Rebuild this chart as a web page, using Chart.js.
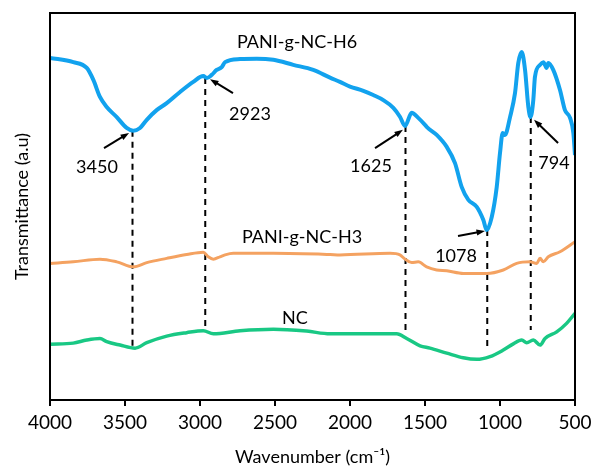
<!DOCTYPE html>
<html>
<head>
<meta charset="utf-8">
<script src="https://cdn.jsdelivr.net/npm/chart.js@4.4.1/dist/chart.umd.min.js"></script>
<style>
  html, body { margin: 0; padding: 0; background: #fff; }
  #wrap { width: 592px; height: 468px; }
</style>
</head>
<body>
<div id="wrap"><canvas id="ftir"></canvas></div>
<script>
// wavenumbers (cm-1) and transmittance (a.u., offset)
const h6Wave = [4000, 3845, 3755, 3711, 3667, 3622, 3555, 3489, 3445, 3400, 3355, 3289, 3222, 3133, 3045, 2978, 2955, 2922, 2889, 2855, 2833, 2733, 2622, 2511, 2378, 2245, 2133, 2067, 2000, 1911, 1845, 1778, 1711, 1667, 1633, 1589, 1545, 1500, 1487, 1422, 1355, 1300, 1255, 1211, 1155, 1111, 1089, 1055, 1022, 1000, 982, 967, 933, 900, 878, 855, 833, 811, 796, 778, 767, 733, 711, 689, 678, 645, 600, 567, 533, 511, 500];
const h6Vals = [88.4, 87.3, 85.8, 82.7, 78.3, 75.7, 73.1, 70.3, 69.6, 70.3, 72.4, 74.9, 76.7, 79.6, 82.2, 83.7, 83.2, 84.0, 85.3, 86.0, 87.3, 88.1, 88.2, 87.9, 86.6, 85.3, 83.3, 82.2, 81.0, 79.9, 78.8, 77.5, 75.5, 73.2, 70.8, 74.2, 72.9, 71.1, 70.5, 68.5, 65.4, 61.2, 55.0, 51.7, 49.9, 46.5, 43.9, 47.3, 55.0, 63.8, 69.0, 68.5, 73.1, 79.3, 87.1, 89.9, 85.3, 75.7, 73.1, 77.5, 83.5, 86.6, 87.3, 85.8, 87.1, 85.3, 80.1, 74.9, 72.9, 69.0, 63.3];

const h3Wave = [4000, 3845, 3667, 3555, 3445, 3355, 3222, 3089, 2978, 2945, 2911, 2867, 2833, 2778, 2511, 2133, 2067, 1733, 1667, 1633, 1589, 1545, 1489, 1422, 1355, 1245, 1089, 978, 889, 800, 755, 733, 711, 678, 600, 500];
const h3Vals = [35.3, 35.7, 36.4, 35.7, 34.4, 35.5, 36.6, 37.6, 38.2, 37.0, 36.4, 37.0, 37.5, 37.9, 37.9, 37.6, 37.5, 37.9, 37.5, 36.4, 35.5, 35.7, 34.4, 33.6, 33.4, 32.7, 32.7, 33.6, 35.3, 35.7, 35.3, 36.6, 35.7, 37.0, 38.3, 40.9];

const ncWave = [4000, 3845, 3755, 3667, 3622, 3533, 3433, 3355, 3222, 3089, 2978, 2911, 2733, 2511, 2289, 2133, 1689, 1622, 1533, 1467, 1355, 1245, 1155, 1067, 978, 911, 855, 822, 778, 733, 700, 622, 556, 500];
const ncVals = [14.4, 14.7, 15.5, 15.9, 15.1, 14.2, 13.4, 14.8, 16.5, 17.4, 17.9, 17.1, 17.9, 18.3, 17.8, 17.1, 17.1, 15.9, 14.0, 13.4, 12.1, 10.9, 10.5, 11.2, 12.9, 14.5, 15.5, 14.8, 15.5, 14.2, 15.9, 17.6, 19.8, 22.4];

// marked peaks: dashed guide from the H6 minimum down towards the NC trace
const peakLabels = ['3450', '2923', '1625', '1078', '794'];
const peakWave = [3450, 2965, 1630, 1085, 795];
const peakTop = [69.6, 83.2, 70.8, 43.9, 73.1];
const peakBottom = [13.8, 18.9, 16.8, 12.9, 18.1];

// label centres and arrows (data units)
const labelWave = [3687, 2667, 1860, 1293, 640];
const labelVals = [60.2, 73.9, 60.5, 37.2, 61.2];
const arrowFrom = [[3640, 65.1], [2780, 79.3], [1833, 65.1], [1280, 42.4], [613, 66.4]];
const arrowTo = [[3473, 69.0], [2933, 82.9], [1647, 69.8], [1100, 43.7], [773, 72.4]];

const seriesNames = ['PANI-g-NC-H6', 'PANI-g-NC-H3', 'NC'];
const seriesColors = ['#12A2EE', '#F4A261', '#19C884'];
const seriesLabelAt = [[2353, 92.5], [2320, 42.1], [2367, 21.2]];

const xTicks = [4000, 3500, 3000, 2500, 2000, 1500, 1000, 500];

const FONT = 'Lato, "Open Sans", sans-serif';

const toPoints = (xs, ys) => xs.map((x, i) => ({ x: x, y: ys[i] }));

const datasets = [
  { data: toPoints(h6Wave, h6Vals), borderColor: seriesColors[0], borderWidth: 4 },
  { data: toPoints(h3Wave, h3Vals), borderColor: seriesColors[1], borderWidth: 3 },
  { data: toPoints(ncWave, ncVals), borderColor: seriesColors[2], borderWidth: 3.5 },
].map(d => Object.assign(d, { pointRadius: 0, tension: 0.4, cubicInterpolationMode: 'monotone', fill: false }));

peakWave.forEach((w, i) => {
  datasets.push({
    data: [{ x: w, y: peakTop[i] }, { x: w, y: peakBottom[i] }],
    borderColor: '#000', borderWidth: 2, borderDash: [6, 5], pointRadius: 0, fill: false
  });
});

const annotations = {
  id: 'annotations',
  afterDatasetsDraw(chart) {
    const { ctx, chartArea: a, scales: { x, y } } = chart;
    ctx.save();
    // frame
    ctx.strokeStyle = '#000';
    ctx.lineWidth = 2;
    ctx.strokeRect(a.left, a.top, a.right - a.left, a.bottom - a.top);

    ctx.fillStyle = '#000';
    ctx.font = '18px ' + FONT;
    ctx.textAlign = 'center';
    ctx.textBaseline = 'middle';
    seriesNames.forEach((n, i) => {
      ctx.fillText(n, x.getPixelForValue(seriesLabelAt[i][0]), y.getPixelForValue(seriesLabelAt[i][1]));
    });
    peakLabels.forEach((t, i) => {
      ctx.fillText(t, x.getPixelForValue(labelWave[i]), y.getPixelForValue(labelVals[i]));
    });

    // arrows
    arrowFrom.forEach((f, i) => {
      const x0 = x.getPixelForValue(f[0]), y0 = y.getPixelForValue(f[1]);
      const x1 = x.getPixelForValue(arrowTo[i][0]), y1 = y.getPixelForValue(arrowTo[i][1]);
      const ang = Math.atan2(y1 - y0, x1 - x0);
      const head = 9;
      ctx.lineWidth = 2;
      ctx.beginPath();
      ctx.moveTo(x0, y0);
      ctx.lineTo(x1 - Math.cos(ang) * head * 0.8, y1 - Math.sin(ang) * head * 0.8);
      ctx.stroke();
      ctx.beginPath();
      ctx.moveTo(x1, y1);
      ctx.lineTo(x1 - head * Math.cos(ang - 0.35), y1 - head * Math.sin(ang - 0.35));
      ctx.lineTo(x1 - head * Math.cos(ang + 0.35), y1 - head * Math.sin(ang + 0.35));
      ctx.closePath();
      ctx.fill();
    });
    ctx.restore();
  }
};

new Chart(document.getElementById('ftir'), {
  type: 'line',
  data: { datasets: datasets },
  options: {
    responsive: true,
    maintainAspectRatio: false,
    animation: false,
    events: [],
    layout: { padding: { top: 13, right: 17, left: 0, bottom: 0 } },
    plugins: { legend: { display: false }, tooltip: { enabled: false } },
    scales: {
      x: {
        type: 'linear',
        reverse: true,
        min: 500,
        max: 4000,
        afterBuildTicks: s => { s.ticks = xTicks.map(v => ({ value: v })); },
        afterFit: s => { s.height = 68; s.paddingLeft = 0; s.paddingRight = 0; },
        ticks: { color: '#000', font: { family: FONT, size: 19 }, padding: 5, maxRotation: 0, autoSkip: false, callback: v => String(v) },
        grid: { drawOnChartArea: false, drawTicks: true, tickLength: 6, color: '#000', lineWidth: 2 },
        border: { display: false },
        title: { display: true, text: 'Wavenumber (cm⁻¹)', color: '#000', font: { family: FONT, size: 18 }, padding: { top: 0, bottom: 0 } }
      },
      y: {
        min: 0,
        max: 100,
        afterFit: s => { s.width = 50; },
        ticks: { display: false },
        grid: { display: false },
        border: { display: false },
        title: { display: true, text: 'Transmittance (a.u)', color: '#000', font: { family: FONT, size: 18 }, padding: { top: 11, bottom: 0 } }
      }
    }
  },
  plugins: [annotations]
});
</script>
</body>
</html>
